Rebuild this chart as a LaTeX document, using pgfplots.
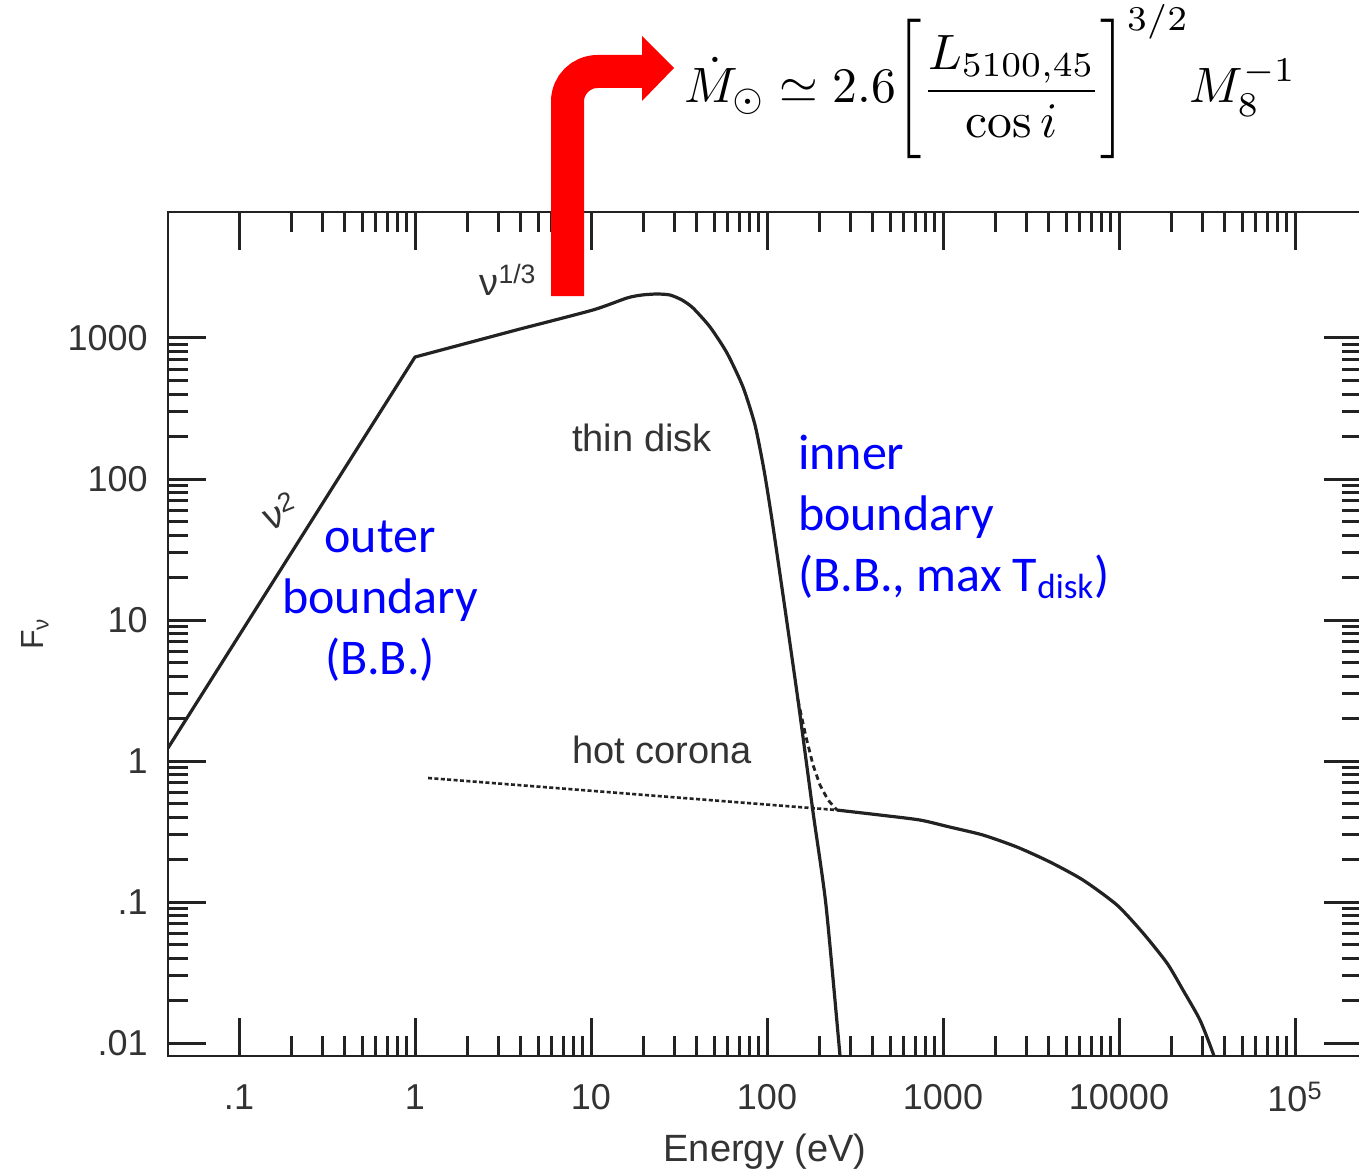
\documentclass[border=0pt]{standalone}
\usepackage[no-math]{fontspec}
\setmainfont{Liberation Sans}
\newfontfamily\calibri{Carlito}
\usepackage{graphicx}
\usepackage{pgfplots}
\usepackage{pgfplotstable}
\pgfplotsset{compat=1.18}

\definecolor{ink}{HTML}{222222}
\definecolor{labelgray}{HTML}{333333}

% Thin-disk spectrum, power-law part: nu^2 (outer boundary) then nu^{1/3}
\pgfplotstableread{
E F
0.0395 1.236
1 733
4 1163
}\diskpow

% Thin-disk spectrum, peak and exponential cutoff
\pgfplotstableread{
E F
4 1163
10.26 1580
16.02 1922
19.49 2018
23.71 2051
28.11 2018
32.89 1860
37.98 1633
47.44 1197
59.25 783
73.07 449
85.48 241.5
96.16 115.8
106.8 51.2
123.3 15.04
150.0 2.71
182.6 0.435
216.3 0.0952
260.0 0.00809
270.2 0.00464
}\diskcut

% Disk plus corona where the two overlap
\pgfplotstableread{
E F
150.0 2.71
166.6 1.48
182.6 0.937
200.0 0.676
222.2 0.529
249.8 0.449
}\disksum

% Hot corona, part hidden under the disk
\pgfplotstableread{
E F
1.186 0.758
249.8 0.449
}\coronalow

% Hot corona above the disk cutoff
\pgfplotstableread{
E F
249.8 0.449
438.5 0.414
740 0.3816
1096 0.340
1687 0.2986
2633 0.2455
4055 0.1922
6245 0.1432
9741 0.0952
13690 0.0603
18740 0.0369
23100 0.02376
28850 0.01456
34200 0.00849
36510 0.00643
}\coronahigh

% tall square brackets for the formula
\newcommand{\tallopen}{\mathopen{\scalebox{1}[1.17]{$\biggl[$}}}
\newcommand{\tallclose}{\mathclose{\scalebox{1}[1.17]{$\biggr]$}}}

\begin{document}
\begin{tikzpicture}
\begin{axis}[
  scale only axis, width=597pt, height=422pt,
  xmode=log, ymode=log,
  xmin=0.0395, xmax=240300, ymin=0.00809, ymax=7826,
  axis line style={ink, line width=1.4pt},
  tick style={ink, line width=1.5pt},
  tick align=inside,
  major tick length=19pt, minor tick length=10pt,
  xtick={0.1,1,10,100,1000,10000,100000},
  xticklabels={.1,1,10,100,1000,10000,10\textsuperscript{5}},
  ytick={0.01,0.1,1,10,100,1000},
  yticklabels={.01,.1,1,10,100,1000},
  /pgf/number format/assume math mode=true,
  tick label style={font=\fontsize{18}{20}\selectfont, text=labelgray},
  xticklabel style={anchor=center, yshift=-20.5pt},
  yticklabel style={anchor=east, inner sep=0pt, xshift=-10pt},
  xlabel={Energy (eV)}, ylabel={F\textsubscript{ν}},
  label style={font=\fontsize{19}{21}\selectfont, text=labelgray},
  xlabel style={at={(axis description cs:0.5,-0.1137)}, anchor=center},
  ylabel style={at={(axis description cs:-0.1114,0.5)}, anchor=center, font=\fontsize{16}{18}\selectfont},
  clip=true,
]
\addplot[ink, line width=1.6pt, line join=round] table {\diskpow};
\addplot[ink, line width=1.6pt, smooth, tension=0.4] table {\diskcut};
\addplot[ink, line width=1.4pt, dash pattern=on 2.8pt off 2pt] table {\disksum};
\addplot[ink, line width=1.3pt, dash pattern=on 2pt off 1.2pt] table {\coronalow};
\addplot[ink, line width=1.6pt, smooth, tension=0.4] table {\coronahigh};
\end{axis}

\begin{scope}[x=0.5pt, y=-0.5pt, shift={(-84pt,528pt)}]
  % grey annotations
  \node[text=labelgray, font=\fontsize{19}{21}\selectfont] at (642,438) {thin disk};
  \node[text=labelgray, font=\fontsize{19}{21}\selectfont] at (662,750) {hot corona};
  \node[text=labelgray, font=\fontsize{19}{21}\selectfont] at (508,280) {ν\textsuperscript{1/3}};
  \node[text=labelgray, font=\fontsize{19}{21}\selectfont, rotate=22] at (280,511) {ν\textsuperscript{2}};
  % blue annotations
  \node[blue, font=\calibri\fontsize{25}{30.5}\selectfont, align=center] at (380,601)
    {outer\\boundary\\(B.B.)};
  \node[blue, font=\calibri\fontsize{25}{30.5}\selectfont, align=left, anchor=west] at (791,517)
    {inner\\boundary\\(B.B., max T\textsubscript{disk})};
  % accretion-rate formula
  \node[anchor=base west, inner sep=0pt] at (684,103)
    {\resizebox{306pt}{!}{$\displaystyle \dot{M}_{\odot} \simeq 2.6 \tallopen\frac{L_{5100,45}}{\cos i}\tallclose^{3/2} M_8^{-1}$}};
  % red arrow
  \draw[red, line width=16.5pt, rounded corners=15pt] (567.5,296) -- (567.5,71.5) -- (644,71.5);
  \fill[red] (642,36) -- (674,68) -- (642,101) -- cycle;
  % picture frame
  \pgfresetboundingbox
  \path (0,0) rectangle (1359,1175);
\end{scope}
\end{tikzpicture}
\end{document}
